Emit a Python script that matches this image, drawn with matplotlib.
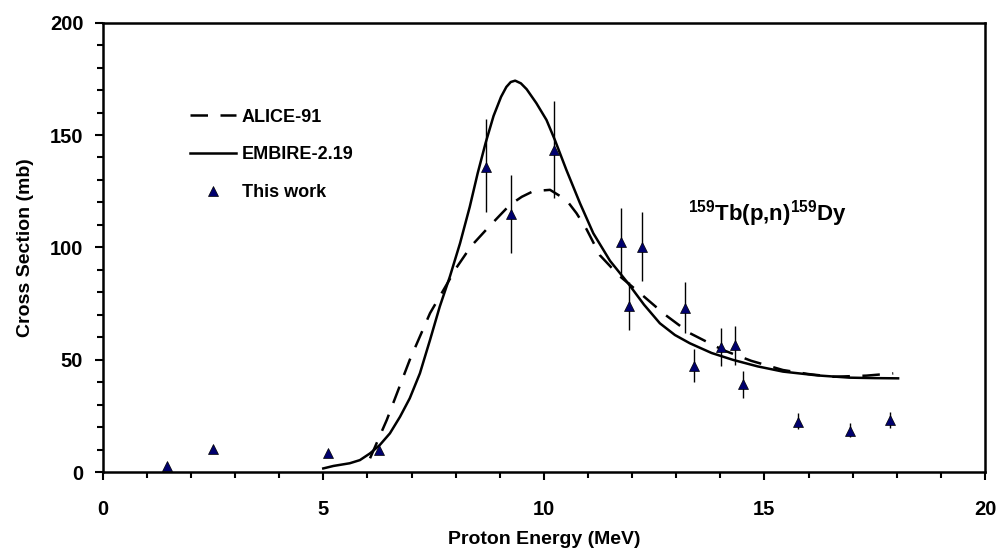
import matplotlib.pyplot as plt

plt.rcParams['font.family'] = ['Liberation Sans', 'DejaVu Sans']
plt.rcParams['font.weight'] = 'bold'
plt.rcParams['mathtext.fontset'] = 'custom'
plt.rcParams['mathtext.bf'] = 'Liberation Sans:bold'
plt.rcParams['mathtext.rm'] = 'Liberation Sans:bold'
plt.rcParams['mathtext.default'] = 'bf'

# Datos experimentales (este trabajo)
energia = [1.45, 2.51, 5.11, 6.26, 8.68, 9.25, 10.23, 11.76, 11.93, 12.23,
           13.2, 13.4, 14.01, 14.33, 14.52, 15.77, 16.94, 17.84]
seccion = [2.7, 10.2, 8.6, 9.8, 135.9, 114.9, 143.4, 102.3, 74.0, 100.3,
           73.2, 47.2, 55.8, 56.5, 39.0, 22.4, 18.3, 23.2]
err_sup = [0, 0, 0, 0, 21.1, 17.3, 21.8, 15.4, 10.8, 15.3,
           11.2, 7.4, 8.2, 8.5, 6.1, 4.0, 3.4, 3.6]
err_inf = [0, 0, 0, 0, 20.0, 17.3, 21.3, 15.3, 10.8, 15.3,
           11.2, 7.2, 8.6, 8.9, 5.9, 3.4, 2.6, 3.7]

# Curva EMPIRE-2.19 (linea continua)
e_empire = [5.0, 5.23, 5.6, 5.83, 6.06, 6.28, 6.51, 6.74, 6.96, 7.19, 7.42,
            7.64, 7.87, 8.1, 8.32, 8.5, 8.68, 8.86, 9.03, 9.15, 9.25, 9.35,
            9.48, 9.61, 9.83, 10.06, 10.25, 10.51, 10.82, 11.12, 11.5, 11.91,
            12.27, 12.63, 12.97, 13.31, 13.8, 14.29, 14.85, 15.42, 16.2, 16.93,
            17.5, 18.03]
s_empire = [1.6, 2.7, 3.9, 5.3, 8.3, 12.0, 17.2, 24.6, 32.8, 43.9, 58.8,
            73.6, 87.0, 101.8, 118.0, 133.0, 146.5, 158.5, 167.0, 171.4, 173.6,
            174.2, 173.0, 170.4, 164.2, 156.7, 147.8, 134.5, 119.6, 106.3, 94.0,
            84.0, 74.5, 66.2, 61.0, 57.3, 53.0, 49.9, 47.0, 44.7, 43.0, 42.0,
            41.8, 41.7]

# Curva ALICE-91 (linea discontinua)
e_alice = [6.06, 6.44, 6.96, 7.42, 8.02, 8.35, 8.7, 9.0, 9.23, 9.5, 9.76,
           10.14, 10.51, 10.74, 10.97, 11.27, 11.7, 12.18, 12.75, 13.31, 14.06,
           14.7, 15.42, 16.0, 16.56, 17.31, 17.92]
s_alice = [6.1, 23.2, 49.9, 70.7, 91.0, 100.5, 108.0, 114.2, 118.9, 122.5,
           125.0, 125.6, 121.1, 115.2, 108.0, 96.5, 87.5, 79.6, 70.0, 61.8,
           54.3, 49.5, 45.4, 43.6, 42.4, 42.9, 43.9]

fig = plt.figure(figsize=(10, 5.59), dpi=100)
ax = fig.add_axes([0.1027, 0.1556, 0.8823, 0.8038])

ax.plot(e_alice, s_alice, color='black', lw=1.8, dashes=(7, 5), label='ALICE-91')
ax.plot(e_empire, s_empire, color='black', lw=1.8, label='EMBIRE-2.19')
ax.errorbar(energia, seccion, yerr=[err_inf, err_sup], fmt='none',
            ecolor='black', elinewidth=1.0, capsize=0)
ax.plot(energia, seccion, '^', color='#00006e', markeredgecolor='black',
        markeredgewidth=0.5, markersize=7, label='This work', ls='none')

ax.set_xlim(0, 20)
ax.set_ylim(0, 200)
ax.set_xticks([0, 5, 10, 15, 20])
ax.set_xticks(range(0, 21), minor=True)
ax.set_yticks([0, 50, 100, 150, 200])
ax.set_yticks(range(0, 201, 10), minor=True)
ax.tick_params(which='major', direction='out', length=6, width=1.5, labelsize=14.5)
ax.tick_params(which='minor', direction='out', length=4.5, width=1.5)
ax.tick_params(axis='x', which='major', pad=14)
ax.tick_params(axis='y', which='major', pad=8)
for s in ax.spines.values():
    s.set_linewidth(1.8)

ax.set_xlabel('Proton Energy (MeV)', fontsize=14, fontweight='bold', labelpad=9)
ax.set_ylabel('Cross Section (mb)', fontsize=14, fontweight='bold', labelpad=11)

ax.text(13.26, 115, r'$^{159}$Tb(p,n)$^{159}$Dy', fontsize=16,
        fontweight='bold', va='center', ha='left')

ax.legend(loc='upper left', bbox_to_anchor=(0.08, 0.845), frameon=False,
          fontsize=13, handlelength=2.6, labelspacing=1.15, handletextpad=0.3)

fig.savefig('out.png', dpi=100)
